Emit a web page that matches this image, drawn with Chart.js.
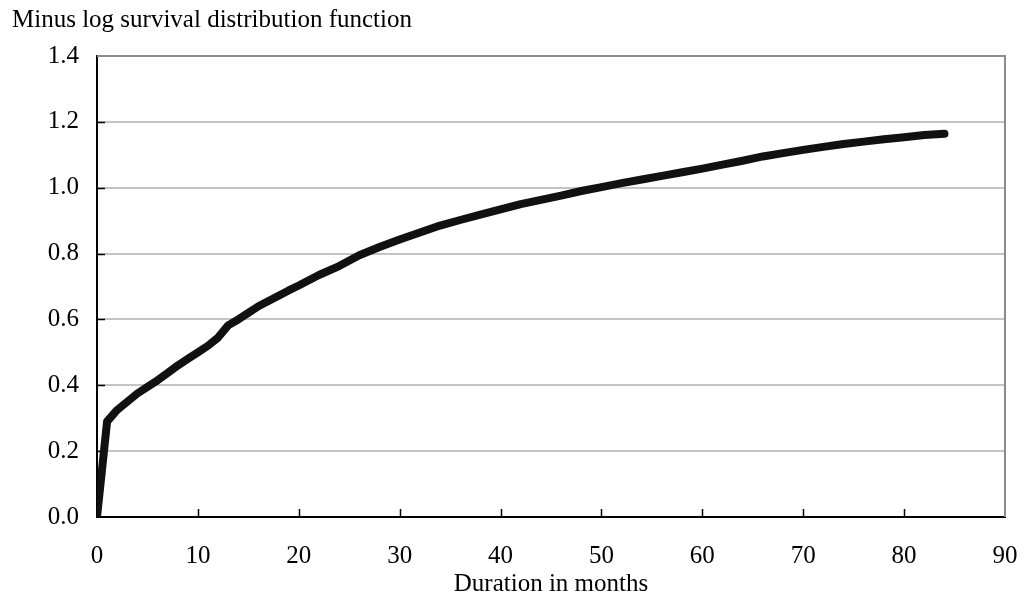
<!DOCTYPE html>
<html>
<head>
<meta charset="utf-8">
<script src="https://cdn.jsdelivr.net/npm/chart.js@4.4.1/dist/chart.umd.min.js"></script>
<style>
  html, body { margin: 0; padding: 0; background: #fff; }
  #wrap { width: 1024px; height: 613px; }
</style>
</head>
<body>
<div id="wrap"><canvas id="c" width="1024" height="613"></canvas></div>
<script>
// months and the value
var months = [0, 1, 2, 3, 4, 5, 6, 7, 8, 9, 10, 11, 12, 13, 14, 15, 16, 17, 18, 19, 20,
              22, 24, 26, 28, 30, 32, 34, 36, 38, 40, 42, 44, 46, 48, 50, 52, 54, 56, 58,
              60, 62, 64, 66, 68, 70, 72, 74, 76, 78, 80, 82, 84];
var minusLogS = [0, 0.29, 0.325, 0.35, 0.375, 0.395, 0.415, 0.437, 0.46, 0.48, 0.50, 0.52, 0.545, 0.582, 0.60, 0.62, 0.64, 0.656, 0.672, 0.688, 0.703,
                 0.735, 0.762, 0.795, 0.82, 0.843, 0.864, 0.885, 0.902, 0.918, 0.934, 0.95, 0.963, 0.976, 0.99, 1.002, 1.014, 1.025, 1.036, 1.047,
                 1.058, 1.07, 1.082, 1.095, 1.105, 1.115, 1.124, 1.133, 1.14, 1.147, 1.153, 1.16, 1.164];
var xTicks = [0, 10, 20, 30, 40, 50, 60, 70, 80, 90];
var yTicks = [0, 0.2, 0.4, 0.6, 0.8, 1.0, 1.2, 1.4];
var yTitle = 'Minus log survival distribution function';
var xTitle = 'Duration in months';

var FONT = 'Liberation Serif, Times New Roman, serif';

var points = [];
for (var i = 0; i < months.length; i++) {
    points.push({ x: months[i], y: minusLogS[i] });
}

// frame, inward tick marks and the two titles
const frameAndTitles = {
    id: 'frameAndTitles',
    beforeDatasetsDraw(chart) {
        const { ctx, chartArea: { top, bottom, left, right } } = chart;
        const xs = chart.scales.x, ys = chart.scales.y;
        ctx.save();
        ctx.strokeStyle = '#8c8c8c';
        ctx.lineWidth = 2;
        ctx.beginPath();
        ctx.moveTo(left, top);
        ctx.lineTo(right, top);
        ctx.lineTo(right, bottom);
        ctx.stroke();
        ctx.strokeStyle = '#000';
        ctx.lineWidth = 1.5;
        ctx.beginPath();
        xTicks.forEach(function (v) {
            var px = Math.round(xs.getPixelForValue(v)) + 0.5;
            if (v == 0 || v == 90) return;
            ctx.moveTo(px, bottom);
            ctx.lineTo(px, bottom - 8);
        });
        yTicks.forEach(function (v) {
            var py = Math.round(ys.getPixelForValue(v)) + 0.5;
            if (v == 0 || v == 1.4) return;
            ctx.moveTo(left, py);
            ctx.lineTo(left + 8, py);
        });
        ctx.stroke();
        ctx.restore();
    },
    afterDraw(chart) {
        const { ctx, chartArea: { left, right } } = chart;
        ctx.save();
        ctx.fillStyle = '#000';
        ctx.font = '25px ' + FONT;
        ctx.textBaseline = 'alphabetic';
        ctx.textAlign = 'left';
        ctx.fillText(yTitle, 12, 27);
        ctx.textAlign = 'center';
        ctx.fillText(xTitle, (left + right) / 2, 591);
        ctx.restore();
    }
};

new Chart(document.getElementById('c').getContext('2d'), {
    type: 'line',
    data: {
        datasets: [{
            data: points,
            borderColor: '#111',
            borderWidth: 8,
            borderCapStyle: 'round',
            borderJoinStyle: 'round',
            pointRadius: 0,
            tension: 0,
            fill: false
        }]
    },
    options: {
        responsive: false,
        animation: false,
        devicePixelRatio: 1,
        layout: { padding: { left: 0, top: 56, right: 19, bottom: 0 } },
        plugins: {
            legend: { display: false },
            tooltip: { enabled: false }
        },
        scales: {
            x: {
                type: 'linear',
                min: 0,
                max: 90,
                afterFit: function (s) { s.height = 96; s.paddingLeft = 0; s.paddingRight = 0; },
                afterBuildTicks: function (s) { s.ticks = xTicks.map(function (v) { return { value: v }; }); },
                ticks: {
                    padding: 24,
                    color: '#000',
                    font: { family: FONT, size: 25 },
                    maxRotation: 0,
                    autoSkip: false
                },
                grid: { display: false, drawTicks: false },
                border: { display: true, color: '#000', width: 2 }
            },
            y: {
                min: 0,
                max: 1.4,
                afterFit: function (s) { s.width = 97; s.paddingTop = 0; s.paddingBottom = 0; },
                afterBuildTicks: function (s) { s.ticks = yTicks.map(function (v) { return { value: v }; }); },
                ticks: {
                    padding: 18,
                    color: '#000',
                    font: { family: FONT, size: 25 },
                    callback: function (v) { return Number(v).toFixed(1); }
                },
                grid: {
                    drawTicks: false,
                    lineWidth: 2,
                    color: function (c) {
                        var v = c.tick ? c.tick.value : 0;
                        if (v < 0.01 || v > 1.39) return 'rgba(0,0,0,0)';
                        return '#c4c4c4';
                    }
                },
                border: { display: true, color: '#000', width: 2 }
            }
        }
    },
    plugins: [frameAndTitles]
});
</script>
</body>
</html>
